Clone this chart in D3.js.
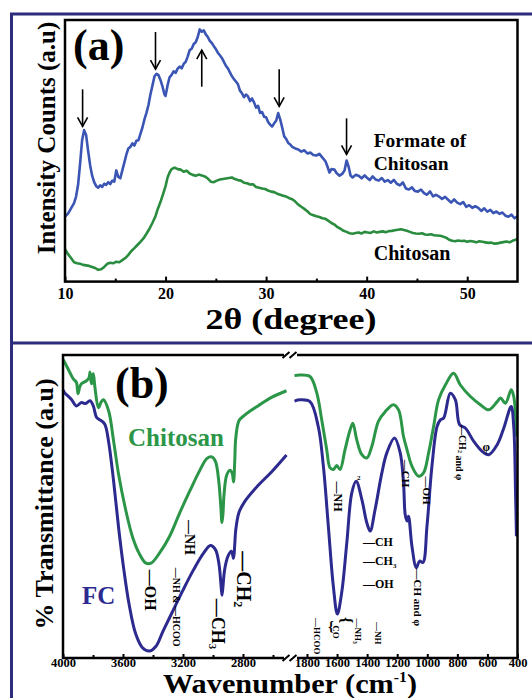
<!DOCTYPE html>
<html><head><meta charset="utf-8">
<script src="https://cdn.jsdelivr.net/npm/d3@7/dist/d3.min.js"></script>
<style>
body{margin:0;background:#fff}
svg{display:block}
text{font-family:"Liberation Serif","Times New Roman",serif;font-weight:bold}
</style>
</head><body>
<svg id="c" width="532" height="698"></svg>
<script>
// ---------------- DATA ----------------
// Panel (a): XRD
const xrdTicks = [10, 20, 30, 40, 50];
const xrdMinorTicks = [15, 25, 35, 45];
const formateAngle = [10.0,10.3,10.6,10.9,11.1,11.3,11.5,11.7,11.9,12.1,12.3,12.5,12.7,12.9,13.1,13.3,13.5,13.7,13.9,14.1,14.3,14.5,14.7,14.9,15.1,15.3,15.5,15.7,15.9,16.1,16.3,16.5,16.7,16.9,17.1,17.3,17.5,17.7,17.9,18.1,18.3,18.5,18.7,18.9,19.1,19.3,19.5,19.7,19.9,20.0,20.2,20.4,20.6,20.8,21.0,21.2,21.4,21.6,21.8,22.0,22.2,22.4,22.6,22.8,23.0,23.2,23.4,23.6,23.8,24.0,24.2,24.4,24.6,24.8,25.0,25.2,25.4,25.6,25.8,26.0,26.2,26.4,26.6,26.8,27.0,27.2,27.4,27.6,27.8,28.0,28.2,28.4,28.6,28.8,29.0,29.2,29.4,29.6,29.8,30.0,30.2,30.4,30.6,30.8,31.0,31.2,31.4,31.6,31.8,32.0,32.2,32.4,32.6,32.9,33.2,33.5,33.8,34.1,34.4,34.7,35.0,35.3,35.6,35.9,36.1,36.3,36.5,36.8,37.0,37.3,37.6,37.8,38.0,38.2,38.4,38.6,38.9,39.2,39.5,39.8,40.0,40.3,40.6,40.9,41.2,41.5,41.8,42.1,42.4,42.7,43.0,43.3,43.6,43.9,44.2,44.5,44.8,45.1,45.4,45.7,46.0,46.3,46.6,46.9,47.2,47.5,47.8,48.1,48.4,48.7,49.0,49.3,49.6,49.9,50.2,50.5,50.8,51.1,51.4,51.7,52.0,52.3,52.6,52.9,53.2,53.5,53.8,54.1,54.4,54.7,55.0];
const formateIntensity = [24.8,26.0,28.0,30.0,32.5,37.0,45.0,54.0,57.9,56.0,50.0,44.5,40.5,38.0,36.5,35.9,36.8,36.2,37.4,37.0,38.0,37.3,38.6,38.2,42.5,40.0,39.5,42.5,45.5,48.5,50.9,51.5,52.8,52.0,53.8,54.0,56.5,58.9,62.0,64.5,67.5,71.6,75.0,78.5,79.4,78.9,77.0,74.5,71.5,71.0,75.0,78.1,79.0,80.4,79.8,81.4,82.2,81.5,83.2,84.0,86.0,88.5,89.0,90.8,91.5,93.5,96.4,95.5,96.0,94.5,93.5,92.0,91.2,90.0,88.9,87.5,86.5,85.5,84.0,82.5,81.5,80.0,78.5,77.4,76.5,75.4,73.0,72.0,70.5,71.5,70.8,69.0,70.0,68.5,66.5,67.2,64.5,64.8,63.0,62.8,61.0,60.0,59.3,60.5,61.5,64.4,62.0,58.9,55.5,54.5,53.0,52.4,51.5,50.9,50.5,49.7,50.2,49.0,49.3,48.4,48.2,48.8,47.4,46.0,44.0,41.7,43.0,42.8,41.5,40.5,41.3,42.5,46.3,44.0,40.5,39.8,40.8,40.5,39.5,40.6,39.8,38.8,40.2,39.0,38.6,39.6,38.2,38.8,37.8,38.9,37.4,36.8,37.9,35.6,35.2,36.0,34.6,34.4,35.2,33.8,33.2,34.5,32.6,33.2,32.5,31.6,32.4,31.3,30.2,31.4,30.2,29.6,30.4,28.6,29.2,28.2,28.8,28.2,27.0,28.0,26.7,27.4,26.2,26.8,25.9,26.4,25.2,24.8,25.6,24.2,25.0];
const chitosanAngle = [10.0,10.3,10.6,10.9,11.2,11.5,11.8,12.1,12.4,12.7,13.0,13.3,13.6,13.9,14.2,14.5,14.8,15.1,15.4,15.7,16.0,16.3,16.6,16.9,17.2,17.5,17.8,18.1,18.4,18.7,19.0,19.2,19.5,19.8,20.0,20.2,20.4,20.6,20.9,21.2,21.5,21.8,22.1,22.4,22.7,23.0,23.3,23.6,23.9,24.2,24.5,24.8,25.1,25.4,25.7,26.0,26.3,26.6,26.9,27.2,27.5,27.8,28.1,28.4,28.7,29.0,29.3,29.6,29.9,30.2,30.5,30.8,31.1,31.4,31.7,32.0,32.3,32.6,32.9,33.2,33.5,33.8,34.1,34.4,34.7,35.0,35.3,35.6,35.9,36.2,36.5,36.8,37.1,37.4,37.7,38.0,38.3,38.6,38.9,39.2,39.5,39.8,40.1,40.4,40.7,41.0,41.3,41.6,41.9,42.2,42.5,42.8,43.1,43.4,43.7,44.0,44.3,44.6,44.9,45.2,45.5,45.8,46.1,46.4,46.7,47.0,47.3,47.6,47.9,48.2,48.5,48.8,49.1,49.4,49.7,50.0,50.3,50.6,50.9,51.2,51.5,51.8,52.1,52.4,52.7,53.0,53.3,53.6,53.9,54.2,54.5,54.8,55.0];
const chitosanIntensity = [12.4,10.5,9.0,7.4,7.0,6.8,6.4,6.2,6.0,5.6,5.2,4.5,4.7,5.6,6.8,7.2,7.0,7.6,7.4,8.2,9.0,10.2,11.7,12.8,14.0,15.2,16.5,18.3,20.2,22.5,25.0,27.5,30.5,34.0,36.5,39.8,41.7,43.0,43.6,43.0,42.8,42.0,42.4,41.3,40.8,40.5,40.9,40.6,40.2,39.4,38.2,38.0,38.6,39.0,39.2,39.4,39.6,39.8,39.2,38.8,38.6,37.8,37.6,37.1,37.2,36.2,35.9,35.6,35.4,34.8,34.4,34.2,33.6,33.2,32.8,32.5,31.9,31.5,30.6,29.4,28.6,27.8,26.9,25.8,25.4,25.0,24.7,24.2,24.0,23.2,22.4,21.8,20.8,20.2,19.4,19.0,18.5,18.3,18.6,18.8,18.4,19.0,18.8,18.6,19.2,18.8,19.0,19.2,18.9,19.3,19.4,19.6,19.8,20.0,19.7,19.4,19.0,18.6,18.4,18.3,18.5,18.0,17.9,18.1,17.7,17.6,17.5,17.2,16.8,16.0,15.6,15.4,15.7,15.5,15.6,15.2,15.5,15.3,15.0,15.4,15.2,15.0,14.8,14.9,14.5,14.6,14.9,15.1,15.3,15.0,15.6,16.0,16.3];
const arrowAngle = [11.75, 19.0, 23.6, 31.3, 38.0];
const arrowFrom  = [73.5, 95.4, 74.5, 81.2, 62.4];
const arrowTo    = [59.3, 81.2, 88.5, 67.0, 48.6];

// Panel (b): FTIR (broken wavenumber axis)
const ftirLeftTicks = [4000, 3600, 3200, 2800];
const ftirLeftMinor = [3800, 3400, 3000, 2600];
const ftirRightTicks = [1800, 1600, 1400, 1200, 1000, 800, 600, 400];
const chitosanLeftWn = [4000,3990,3956,3930,3911,3900,3888,3877,3843,3826,3820,3812,3809,3803,3798,3787,3764,3745,3730,3696,3662,3628,3583,3538,3493,3447,3413,3357,3289,3221,3153,3087,3040,3007,2983,2961,2948,2940,2933,2927,2909,2887,2872,2863,2855,2848,2827,2793,2750,2700,2610,2510];
const chitosanLeftT  = [98.5,97.7,94.4,92.0,91.0,87.2,89.5,90.5,91.5,92.5,94.4,91.0,90.5,93.0,93.8,89.3,82.6,84.5,85.2,81.6,71.4,60.2,49.1,40.2,34.6,31.3,31.3,34.6,40.2,48.0,55.3,62.0,65.9,66.4,64.8,58.1,50.0,44.7,48.0,53.6,60.3,62.0,61.0,58.1,65.0,72.7,78.3,80.0,81.6,83.2,86.0,88.2];
const fcLeftWn = [4000,3990,3945,3911,3877,3850,3820,3798,3775,3741,3720,3696,3662,3628,3594,3560,3515,3470,3425,3380,3333,3267,3200,3131,3063,3017,2983,2961,2948,2940,2932,2923,2900,2877,2863,2855,2848,2827,2793,2700,2610,2510];
const fcLeftT  = [88.5,87.6,85.4,83.2,84.3,84.0,84.9,83.2,79.3,78.2,77.0,71.4,58.1,42.4,29.0,17.9,7.9,3.4,2.3,3.9,8.9,15.6,22.4,29.0,34.6,37.1,35.7,31.3,25.0,20.7,24.5,29.0,33.6,35.2,32.9,37.5,42.4,48.0,51.3,56.9,61.4,67.0];
const chitosanRightWn = [1883,1847,1780,1735,1702,1669,1647,1625,1602,1580,1547,1513,1495,1469,1435,1402,1369,1325,1280,1225,1191,1158,1135,1102,1058,1025,991,958,925,880,825,780,713,647,591,535,513,480,442,425,407];
const chitosanRightT  = [93.2,93.4,92.9,87.5,78.6,68.8,62.8,62.2,63.5,62.2,68.8,75.3,77.5,72.0,67.1,66.0,69.8,78.1,81.3,83.6,81.9,73.1,68.8,63.3,60.0,61.1,67.7,76.4,85.2,90.1,94.0,90.1,86.3,83.6,81.9,84.6,85.8,84.1,88.5,86.3,73.1];
const fcRightWn = [1883,1847,1780,1725,1691,1658,1625,1598,1569,1535,1502,1473,1435,1402,1380,1347,1302,1269,1218,1180,1158,1147,1135,1125,1102,1073,1051,1029,1002,969,935,913,891,847,813,785,747,691,635,591,535,491,442,425,413,407];
const fcRightT  = [84.8,85.2,84.6,76.4,63.3,43.5,23.8,14.5,21.6,38.1,54.5,58.3,52.3,44.6,41.9,49.0,61.1,67.7,72.6,67.7,57.8,47.4,45.2,46.8,36.9,29.8,32.0,31.5,43.5,63.3,76.4,78.6,79.2,87.4,85.2,77.0,75.9,71.5,68.2,67.1,70.4,75.9,83.0,76.4,54.5,40.2];

// ---------------- DRAWING ----------------
const svg = d3.select("#c");
const NAVY = "#2d2b7c";
const XRD_BLUE = "#3a55b4";
const XRD_GREEN = "#2a8c3e";
const FT_GREEN = "#2c9648";
const FT_NAVY = "#2c2a8e";

// outer frame
svg.append("path").attr("d", "M11.5,698V14H532").attr("fill", "none").attr("stroke", NAVY).attr("stroke-width", 3);
svg.append("line").attr("x1", 11.5).attr("x2", 532).attr("y1", 343).attr("y2", 343).attr("stroke", NAVY).attr("stroke-width", 3);

// ===== Panel (a) =====
const xA = d3.scaleLinear().domain([10, 55]).range([65, 517.5]);
const yA = d3.scaleLinear().domain([0, 100]).range([281.6, 20]);
const gA = svg.append("g");

const lineA = d3.line().x(d => xA(d[0])).y(d => yA(d[1]));
gA.append("path").datum(formateAngle.map((a, i) => [a, formateIntensity[i]]))
  .attr("d", lineA).attr("fill", "none").attr("stroke", XRD_BLUE).attr("stroke-width", 2.6).attr("stroke-linejoin", "round");
gA.append("path").datum(chitosanAngle.map((a, i) => [a, chitosanIntensity[i]]))
  .attr("d", lineA).attr("fill", "none").attr("stroke", XRD_GREEN).attr("stroke-width", 2.6).attr("stroke-linejoin", "round");

gA.append("rect").attr("x", 65).attr("y", 20).attr("width", 452.5).attr("height", 261.6)
  .attr("fill", "none").attr("stroke", "#000").attr("stroke-width", 2.5);

const axA = gA.append("g").attr("transform", "translate(0,281.6)")
  .call(d3.axisBottom(xA).tickValues(xrdTicks).tickSize(-5).tickPadding(6));
axA.select(".domain").remove();
axA.selectAll("line").attr("stroke-width", 2);
axA.selectAll("text").attr("font-size", 16).attr("font-family", "Liberation Serif").attr("font-weight", "bold");
const axAm = gA.append("g").attr("transform", "translate(0,281.6)")
  .call(d3.axisBottom(xA).tickValues(xrdMinorTicks).tickSize(-3).tickFormat(""));
axAm.select(".domain").remove();
axAm.selectAll("line").attr("stroke-width", 2);

// arrows
arrowAngle.forEach((a, i) => {
  const x = xA(a), y1 = yA(arrowFrom[i]), y2 = yA(arrowTo[i]);
  const dir = y2 > y1 ? 1 : -1;
  const g = gA.append("g").attr("stroke", "#000").attr("stroke-width", 1.6).attr("fill", "none");
  g.append("line").attr("x1", x).attr("x2", x).attr("y1", y1).attr("y2", y2);
  g.append("path").attr("d", `M${x - 5},${y2 - dir * 9}L${x},${y2}L${x + 5},${y2 - dir * 9}`);
});

gA.append("text").attr("x", 73).attr("y", 60).attr("font-size", 44).text("(a)");
gA.append("text").attr("x", xA(40.7)).attr("y", 147).attr("font-size", 19.5).text("Formate of");
gA.append("text").attr("x", xA(40.7)).attr("y", 169.5).attr("font-size", 19.5).text("Chitosan");
gA.append("text").attr("x", xA(40.7)).attr("y", yA(8.3)).attr("font-size", 20).text("Chitosan");

gA.append("text").attr("transform", "translate(55,138) rotate(-90)").attr("text-anchor", "middle")
  .attr("font-size", 25).text("Intensity Counts (a.u)");
gA.append("text").attr("x", 291).attr("y", 329).attr("text-anchor", "middle").attr("font-size", 29)
  .attr("textLength", 171).attr("lengthAdjust", "spacingAndGlyphs").text("2θ (degree)");

// ===== Panel (b) =====
const xL = d3.scaleLinear().domain([4000, 2510]).range([63, 286.5]);
const xR = d3.scaleLinear().domain([1883, 400]).range([294.5, 517.5]);
const yB = d3.scaleLinear().domain([0, 100]).range([658, 355]);
const gB = svg.append("g");

const ftLine = (xs) => d3.line().x(d => xs(d[0])).y(d => yB(d[1])).curve(d3.curveCatmullRom.alpha(0.5));
function curve(wn, t, xs, color) {
  gB.append("path").datum(wn.map((w, i) => [w, t[i]])).attr("d", ftLine(xs))
    .attr("fill", "none").attr("stroke", color).attr("stroke-width", 3).attr("stroke-linejoin", "round");
}
curve(chitosanLeftWn, chitosanLeftT, xL, FT_GREEN);
curve(fcLeftWn, fcLeftT, xL, FT_NAVY);
curve(chitosanRightWn, chitosanRightT, xR, FT_GREEN);
curve(fcRightWn, fcRightT, xR, FT_NAVY);

// frame with axis break
const fr = gB.append("g").attr("stroke", "#000").attr("stroke-width", 2.5).attr("fill", "none");
fr.append("path").attr("d", "M284,355H63V658H284");
fr.append("path").attr("d", "M297,355H517.5V658H297");
[355, 658].forEach(y => {
  fr.append("path").attr("d", `M282.5,${y + 3}L289.5,${y - 3}M289.5,${y + 3}L296.5,${y - 3}`).attr("stroke-width", 2);
});

function bAxis(xs, vals, size, labels) {
  const ax = gB.append("g").attr("transform", "translate(0,658)")
    .call(d3.axisBottom(xs).tickValues(vals).tickSize(-size).tickPadding(0).tickFormat(labels ? d3.format("d") : ""));
  ax.select(".domain").remove();
  ax.selectAll("line").attr("stroke-width", 2);
  ax.selectAll("text").attr("font-size", 12.5).attr("font-family", "Liberation Serif").attr("font-weight", "bold");
}
bAxis(xL, ftirLeftTicks, 4, true);
bAxis(xL, ftirLeftMinor, 3, false);
bAxis(xR, ftirRightTicks, 4, true);

gB.append("text").attr("x", 115).attr("y", 398).attr("font-size", 44).text("(b)");
gB.append("text").attr("x", 128).attr("y", 446).attr("font-size", 25).attr("fill", FT_GREEN).text("Chitosan");
gB.append("text").attr("x", 82).attr("y", 604).attr("font-size", 25).attr("fill", FT_NAVY).text("FC");

gB.append("text").attr("transform", "translate(53,504) rotate(-90)").attr("text-anchor", "middle")
  .attr("font-size", 26).text("% Transmittance (a.u)");
const wt = gB.append("text").attr("x", 290).attr("y", 692.5).attr("text-anchor", "middle").attr("font-size", 27)
  .attr("textLength", 254).attr("lengthAdjust", "spacingAndGlyphs");
wt.append("tspan").text("Wavenumber (cm");
wt.append("tspan").attr("font-size", 14).attr("dy", -11).text("-1");
wt.append("tspan").attr("dy", 11).text(")");

// annotations: parts = [text, sub]
function vlabel(xs, wn, val, parts, size, rot) {
  const t = gB.append("text")
    .attr("transform", `translate(${xs(wn)},${yB(val)}) rotate(${rot === undefined ? 90 : rot})`)
    .attr("text-anchor", "middle").attr("dominant-baseline", "central").attr("font-size", size);
  parts.forEach(p => {
    t.append("tspan").text(p[0]);
    if (p[1]) {
      t.append("tspan").attr("font-size", size * 0.6).attr("dy", size * 0.3).text(p[1]);
      t.append("tspan").attr("dy", -size * 0.3).text("");
    }
  });
}
vlabel(xL, 3413, 22.4, [["—OH"]], 16);
vlabel(xL, 3153, 39.8, [["—NH"]], 14);
vlabel(xL, 3243, 16.8, [["—NH & —HCOO"]], 10);
vlabel(xL, 2967, 11.2, [["—CH", "3"]], 18);
vlabel(xL, 2793, 26.0, [["—CH", "2"]], 20);

vlabel(xR, 1593, 53.3, [["—NH"]], 12);
gB.append("text").attr("x", xR(1467)).attr("y", yB(58.9)).attr("font-size", 7).text("2");
vlabel(xR, 1143, 60.9, [["—CH"]], 11);
vlabel(xR, 1003, 55.3, [["—OH"]], 11);
vlabel(xR, 1060, 20.0, [["—CH and φ"]], 11);
vlabel(xR, 760, 67.8, [["—CH", "2"], [" and φ"]], 10);
gB.append("text").attr("x", xR(607)).attr("y", yB(69.7)).attr("text-anchor", "middle")
  .attr("dominant-baseline", "central").attr("font-size", 12).text("φ");

const hl = [["—CH", null, 36.8], ["—CH", "3", 30.6], ["—OH", null, 23.0]];
hl.forEach(h => {
  const t = gB.append("text").attr("x", xR(1428)).attr("y", yB(h[2])).attr("font-size", 12);
  t.append("tspan").text(h[0]);
  if (h[1]) t.append("tspan").attr("font-size", 7).attr("dy", 3).text(h[1]);
});

vlabel(xR, 1733, 7.2, [["—HCOO"]], 9);
vlabel(xR, 1606, 8.6, [["CO"]], 9);
vlabel(xR, 1460, 8.9, [["—NH", "3"]], 9);
vlabel(xR, 1327, 8.2, [["—NH"]], 9);
// brace around CO
gB.append("text").attr("x", xR(1640)).attr("y", yB(10.5)).attr("text-anchor", "middle")
  .attr("dominant-baseline", "central").attr("font-size", 14).text("{");
gB.append("text").attr("transform", `translate(${xR(1540)},${yB(12.5)}) rotate(90)`).attr("text-anchor", "middle")
  .attr("dominant-baseline", "central").attr("font-size", 16).text("{");
</script>
</body></html>
